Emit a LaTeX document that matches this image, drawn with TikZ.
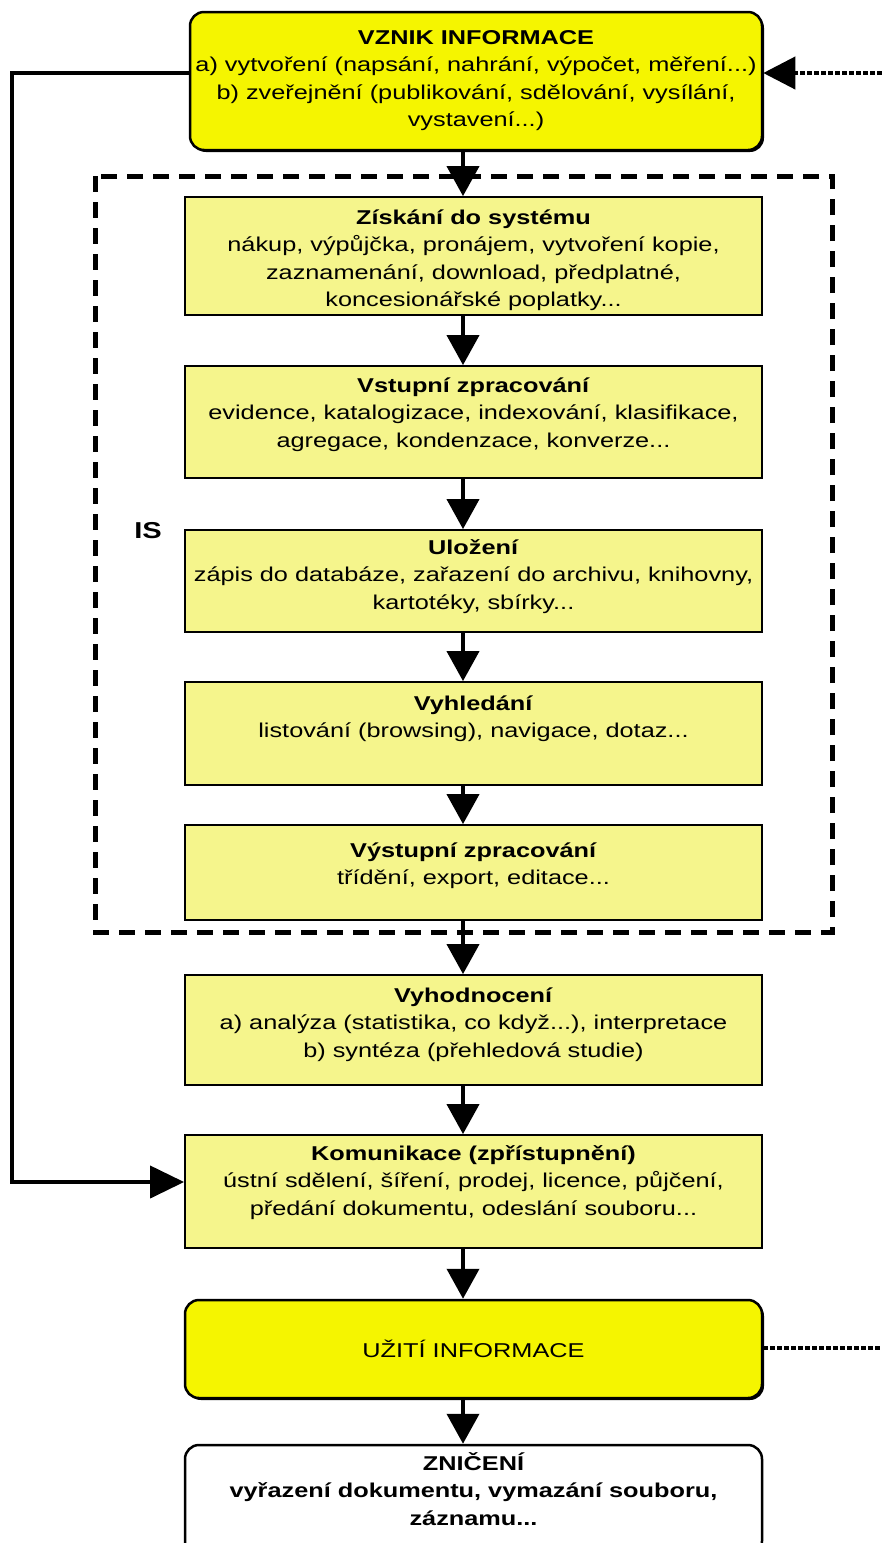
\documentclass[tikz,border=0pt]{standalone}
\usepackage{fontspec}
\setmainfont{Liberation Sans}[FakeStretch=1.265]
\usetikzlibrary{arrows.meta,shadows}
\definecolor{yelB}{RGB}{245,245,0}
\definecolor{yelP}{RGB}{245,245,140}
\newcommand{\btx}[4]{\parbox[c][#1pt][t]{#2pt}{\centering\vspace*{#3pt}\rule{0pt}{18pt}#4\par}}
\begin{document}
\begin{tikzpicture}[x=1pt,y=-1pt,
  font=\fontsize{20}{27.5}\selectfont,
  procbox/.style={draw=black, line width=1.8pt, fill=yelP, inner sep=0pt},
  keybox/.style={draw=black, line width=2.5pt, fill=yelB, rounded corners=14pt, inner sep=0pt,
    drop shadow={shadow xshift=2pt, shadow yshift=-2pt, fill=black, opacity=1}},
  endbox/.style={draw=black, line width=2.5pt, fill=white, rounded corners=14pt, inner sep=0pt},
  flow/.style={line width=4pt, -{Triangle[length=30pt,width=32pt]}},
  plainline/.style={line width=4pt},
  dotline/.style={line width=4pt, dash pattern=on 5pt off 2pt},
  isframe/.style={line width=5pt, dash pattern=on 16pt off 10pt}]
\useasboundingbox (0,0) rectangle (882,1543);
\fill[white] (0,0) rectangle (882,1543);

% IS frame
\draw[isframe] (95,176) rectangle (832,932);
\node[font=\bfseries\fontsize{23}{25}\selectfont] (islabel) at (148,531) {IS};

% boxes
\node[keybox] (vznik) at (476,81) {\btx{138}{572}{14}{\textbf{VZNIK INFORMACE}\\a) vytvoření (napsání, nahrání, výpočet, měření...)\\b) zveřejnění (publikování, sdělování, vysílání,\\vystavení...)}};

\node[procbox] (zisk) at (473.5,256) {\btx{118}{577}{9}{\textbf{Získání do systému}\\nákup, výpůjčka, pronájem, vytvoření kopie,\\zaznamenání, download, předplatné,\\koncesionářské poplatky...}};

\node[procbox] (vstup) at (473.5,422) {\btx{112}{577}{8}{\textbf{Vstupní zpracování}\\evidence, katalogizace, indexování, klasifikace,\\agregace, kondenzace, konverze...}};

\node[procbox] (ulozeni) at (473.5,581) {\btx{102}{577}{6}{\textbf{Uložení}\\zápis do databáze, zařazení do archivu, knihovny,\\kartotéky, sbírky...}};

\node[procbox] (vyhled) at (473.5,733.5) {\btx{103}{577}{10}{\textbf{Vyhledání}\\listování (browsing), navigace, dotaz...}};

\node[procbox] (vystup) at (473.5,872.5) {\btx{95}{577}{14}{\textbf{Výstupní zpracování}\\třídění, export, editace...}};

\node[procbox] (vyhod) at (473.5,1030) {\btx{110}{577}{9}{\textbf{Vyhodnocení}\\a) analýza (statistika, co když...), interpretace\\b) syntéza (přehledová studie)}};

\node[procbox] (komun) at (473.5,1191.5) {\btx{113}{577}{7}{\textbf{Komunikace (zpřístupnění)}\\ústní sdělení, šíření, prodej, licence, půjčení,\\předání dokumentu, odeslání souboru...}};

\node[keybox] (uziti) at (473.5,1349) {\parbox[c][98pt][c]{577pt}{\centering UŽITÍ INFORMACE}};

\node[endbox] (zniceni) at (473.5,1500) {\btx{110}{577}{7}{\bfseries ZNIČENÍ\\vyřazení dokumentu, vymazání souboru,\\záznamu...}};

% connectors
\coordinate (ax) at (463,0);
\draw[flow] (vznik.south -| ax) -- (zisk.north -| ax);
\draw[flow] (zisk.south -| ax) -- (vstup.north -| ax);
\draw[flow] (vstup.south -| ax) -- (ulozeni.north -| ax);
\draw[flow] (ulozeni.south -| ax) -- (vyhled.north -| ax);
\draw[flow] (vyhled.south -| ax) -- (vystup.north -| ax);
\draw[flow] (vystup.south -| ax) -- (vyhod.north -| ax);
\draw[flow] (vyhod.south -| ax) -- (komun.north -| ax);
\draw[flow] (komun.south -| ax) -- (uziti.north -| ax);
\draw[flow] (uziti.south -| ax) -- (zniceni.north -| ax);

\coordinate (l1) at (12,73);
\coordinate (l2) at (12,1182);
\draw[plainline, -{Triangle[length=34pt,width=32pt]}] (vznik.west |- l1) -- (l1) -- (l2) -- (komun.west |- l2);

\coordinate (r1) at (882,73);
\draw[dotline, -{Triangle[length=32pt,width=32pt]}] (r1) -- (vznik.east |- r1);
\coordinate (r2) at (882,1348);
\draw[dotline] (uziti.east |- r2) -- (r2);
\end{tikzpicture}
\end{document}
